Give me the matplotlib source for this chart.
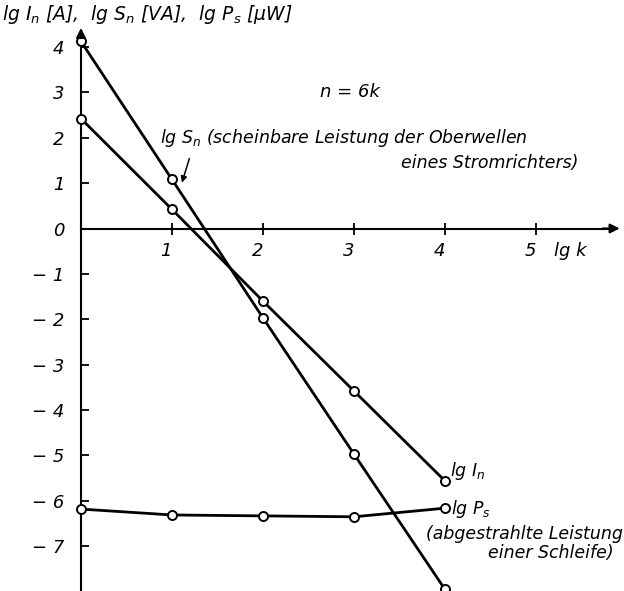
import matplotlib.pyplot as plt

plt.rcParams['font.family'] = ['DejaVu Sans']
plt.rcParams['mathtext.fontset'] = 'dejavusans'

# lg k
LGK = [0, 1, 2, 3, 4]
# lg S_n [VA]
LG_S = [4.12, 1.08, -1.97, -4.97, -7.95]
# lg I_n [A]
LG_I = [2.42, 0.42, -1.60, -3.58, -5.56]
# lg P_s [uW]
LG_P = [-6.18, -6.31, -6.33, -6.35, -6.16]

XTICKS = [1, 2, 3, 4, 5]
YTICKS = [4, 3, 2, 1, 0, -1, -2, -3, -4, -5, -6, -7]

fig = plt.figure(figsize=(6.24, 5.91), dpi=100)
ax = fig.add_axes([0, 0, 1, 1])
ax.set_xlim(-81 / 91, 543 / 91)
ax.set_ylim(-362.5 / 45.4, 228.5 / 45.4)

st = dict(color='black', lw=2.0, marker='o', ms=6.5, mfc='white', mec='black', mew=1.4, clip_on=False, zorder=3)
ax.plot(LGK, LG_S, **st)
ax.plot(LGK, LG_I, **st)
ax.plot(LGK, LG_P, **st)

# Achsen
for s in ['top', 'right']:
    ax.spines[s].set_visible(False)
ax.spines['left'].set_position(('data', 0))
ax.spines['bottom'].set_position(('data', 0))
ax.spines['left'].set_bounds(-8.1, 4.35)
ax.spines['bottom'].set_bounds(0, 5.8)
ax.spines['left'].set_linewidth(1.5)
ax.spines['bottom'].set_linewidth(1.5)
ax.annotate('', xy=(5.95, 0), xytext=(5.7, 0),
            arrowprops=dict(arrowstyle='-|>', color='black', lw=1.5, mutation_scale=14))
ax.annotate('', xy=(0, 4.48), xytext=(0, 4.2),
            arrowprops=dict(arrowstyle='-|>', color='black', lw=1.5, mutation_scale=14))

ax.set_xticks(XTICKS)
ax.set_xticklabels([str(t) for t in XTICKS], fontsize=13, fontstyle='italic')
ax.set_yticks(YTICKS)
ax.set_yticklabels([str(t) if t >= 0 else '\u2212 ' + str(-t) for t in YTICKS],
                   fontsize=13, fontstyle='italic')
ax.tick_params(axis='x', direction='inout', length=9, width=1.3, pad=5)
ax.tick_params(axis='y', direction='in', length=6, width=1.3, pad=12)
for lbl in ax.get_xticklabels():
    lbl.set_horizontalalignment('right')

it = dict(fontsize=12.5, fontstyle='italic', color='black')
ax.text(5.2, -0.5, 'lg k', ha='left', va='center', fontsize=13, fontstyle='italic')
fig.text(0.003, 0.975, 'lg $I_n$ [A],  lg $S_n$ [VA],  lg $P_s$ [\u03bcW]', ha='left', va='center',
         fontsize=13.5, fontstyle='italic')
ax.text(2.95, 3.0, 'n = 6k', ha='center', va='center', fontsize=13, fontstyle='italic')
ax.text(0.87, 2.0, 'lg $S_n$ (scheinbare Leistung der Oberwellen', ha='left', va='center', **it)
ax.text(5.47, 1.45, 'eines Stromrichters)', ha='right', va='center', **it)
ax.annotate('', xy=(1.1, 0.95), xytext=(1.2, 1.6),
            arrowprops=dict(arrowstyle='-|>', color='black', lw=1.1, mutation_scale=9))
ax.text(4.05, -5.35, 'lg $I_n$', ha='left', va='center', **it)
ax.text(4.07, -6.17, 'lg $P_s$', ha='left', va='center', **it)
ax.text(5.96, -6.72, '(abgestrahlte Leistung', ha='right', va='center', **it)
ax.text(5.85, -7.15, 'einer Schleife)', ha='right', va='center', **it)

fig.savefig('out.png', dpi=100, facecolor='white')
